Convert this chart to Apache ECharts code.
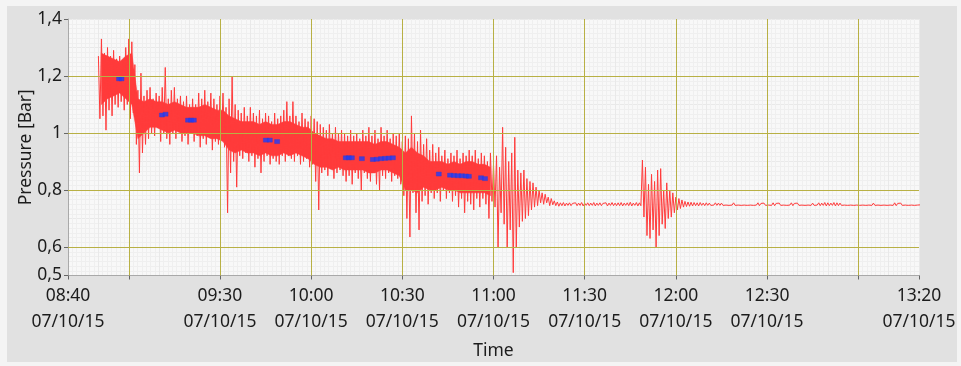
<!DOCTYPE html>
<html><head><meta charset="utf-8">
<script src="https://cdn.jsdelivr.net/npm/echarts@6/dist/echarts.min.js"></script>
<style>html,body{margin:0;padding:0;background:#f4f4f4;} #c{width:961px;height:366px;}</style>
</head><body><div id="c"></div>
<script>
// time in minutes since midnight; each minute holds the upper / lower excursion
const startMinute = 530; // 08:50
const stepMinutes = 1;
const upperEnvelope = [
 1.27,1.33,1.28,1.30,1.27,1.29,1.26,1.27,1.25,1.30,
 1.33,1.32,1.24,1.15,1.21,1.13,1.15,1.16,1.12,1.14,
 1.13,1.16,1.23,1.12,1.15,1.16,1.12,1.13,1.11,1.13,
 1.10,1.12,1.10,1.14,1.12,1.15,1.11,1.14,1.12,1.10,
 1.13,1.14,1.09,1.12,1.20,1.10,1.08,1.07,1.09,1.06,
 1.09,1.07,1.06,1.08,1.05,1.07,1.06,1.04,1.07,1.05,
 1.06,1.08,1.11,1.06,1.11,1.06,1.04,1.07,1.05,1.04,
 1.06,1.05,1.04,1.03,1.02,1.01,1.03,1.00,1.02,1.00,
 1.01,1.00,0.99,1.01,0.99,1.00,0.98,1.01,0.99,1.02,
 0.99,1.01,0.98,1.02,0.99,1.01,0.98,1.00,0.99,1.00,
 0.97,0.99,0.98,1.06,1.00,0.97,1.01,0.96,0.98,0.94,
 0.96,0.93,0.95,0.92,0.94,0.91,0.93,0.92,0.94,0.91,
 0.93,0.92,0.94,0.92,0.94,0.91,0.93,0.92,0.90,0.93,
 0.89,0.92,0.88,1.02,0.95,0.90,0.93,0.985,0.87,0.86,
 0.87,0.84,0.83,0.825,0.81,0.80,0.79,0.785,0.775,0.77,0.762,
 0.758,0.755,0.756,0.754,0.755,0.753,0.755,0.754,0.756,0.754,
 0.755,0.754,0.756,0.754,0.755,0.753,0.755,0.754,0.756,0.754,
 0.755,0.756,0.754,0.755,0.757,0.754,0.756,0.755,
 0.905,0.88,0.82,0.855,0.83,0.87,0.875,0.80,0.825,0.80,0.79,0.775,0.77,0.765,0.76,0.758,
 0.757,0.756,0.755,0.756,0.754,0.755,0.754,0.753,0.755,0.754,
 0.754,0.753,0.754,0.753,0.755,0.753,0.754,0.753,0.754,0.753,
 0.754,0.753,0.755,0.753,0.754,0.753,0.754,0.755,0.753,0.754,
 0.753,0.754,0.753,0.755,0.753,0.754,0.753,0.754,0.753,0.754,
 0.754,0.753,0.755,0.754,0.756,0.755,0.754,0.756,0.755,0.754,
 0.753,0.754,0.753,0.754,0.753,0.754,0.753,0.754,0.753,0.754,
 0.754,0.753,0.754,0.753,0.754,0.753,0.754,0.755,0.753,0.754,
 0.753,0.754,0.753,0.754,0.753,0.752
];
const lowerEnvelope = [
 1.05,1.06,1.01,1.08,1.06,1.10,1.09,1.11,1.08,1.10,
 1.05,1.07,0.96,0.86,0.93,0.96,0.98,1.00,0.99,1.02,
 0.97,1.00,0.98,0.96,1.00,0.98,1.01,0.97,0.99,0.96,
 1.00,0.97,0.99,0.95,0.98,0.96,0.99,0.94,0.97,0.96,
 0.98,0.95,0.72,0.86,0.90,0.81,0.92,0.91,0.93,0.90,
 0.92,0.88,0.91,0.86,0.90,0.92,0.89,0.91,0.90,0.89,
 0.92,0.90,0.92,0.91,0.90,0.92,0.89,0.90,0.91,0.88,
 0.89,0.83,0.73,0.86,0.87,0.85,0.88,0.84,0.86,0.87,
 0.85,0.83,0.85,0.82,0.86,0.84,0.80,0.86,0.84,0.83,
 0.86,0.82,0.80,0.85,0.84,0.86,0.83,0.85,0.84,0.82,
 0.78,0.70,0.635,0.79,0.72,0.66,0.76,0.78,0.75,0.79,
 0.77,0.79,0.76,0.80,0.77,0.79,0.76,0.78,0.74,0.77,
 0.72,0.76,0.75,0.73,0.77,0.74,0.77,0.75,0.70,0.76,
 0.74,0.60,0.72,0.68,0.60,0.66,0.51,0.60,0.67,0.69,
 0.70,0.71,0.73,0.74,0.745,0.755,0.75,0.755,0.745,0.748,0.745,
 0.743,0.745,0.744,0.746,0.745,0.746,0.745,0.746,0.744,0.746,
 0.745,0.746,0.744,0.746,0.745,0.746,0.744,0.746,0.745,0.745,
 0.745,0.744,0.746,0.745,0.744,0.746,0.744,0.745,
 0.705,0.64,0.63,0.66,0.60,0.64,0.68,0.665,0.70,0.705,0.72,0.73,0.735,0.74,0.742,0.743,
 0.744,0.745,0.744,0.746,0.745,0.746,0.746,0.747,0.746,0.746,
 0.746,0.747,0.746,0.747,0.746,0.747,0.746,0.747,0.746,0.747,
 0.746,0.747,0.745,0.747,0.746,0.747,0.746,0.745,0.747,0.746,
 0.747,0.746,0.747,0.745,0.747,0.746,0.747,0.746,0.747,0.746,
 0.746,0.747,0.745,0.746,0.744,0.745,0.746,0.744,0.745,0.746,
 0.747,0.746,0.747,0.746,0.747,0.746,0.747,0.746,0.747,0.746,
 0.746,0.747,0.746,0.747,0.746,0.747,0.746,0.745,0.747,0.746,
 0.747,0.746,0.747,0.746,0.747,0.748
];
// dense core of the noisy band (every 2 minutes from 08:51 to 10:59)
const coreStartMinute = 531;
const coreStepMinutes = 2;
const coreUpper = [
 1.28,1.27,1.26,1.25,1.27,1.28,1.12,1.11,1.12,1.11,
 1.11,1.10,1.11,1.10,1.09,1.09,1.09,1.10,1.09,1.08,
 1.08,1.06,1.05,1.04,1.04,1.04,1.03,1.04,1.03,1.03,
 1.04,1.04,1.03,1.02,1.02,1.00,0.99,0.98,0.98,0.97,
 0.97,0.97,0.97,0.97,0.97,0.96,0.97,0.97,0.96,0.95,
 0.93,0.95,0.93,0.92,0.90,0.90,0.90,0.89,0.90,0.89,
 0.90,0.90,0.89,0.89,0.88
];
const coreLower = [
 1.10,1.12,1.13,1.14,1.12,1.10,0.98,1.00,1.02,1.02,
 1.01,1.00,1.01,1.00,1.00,1.00,0.99,0.99,0.98,0.98,
 0.97,0.94,0.93,0.94,0.93,0.93,0.92,0.93,0.92,0.92,
 0.93,0.92,0.93,0.92,0.91,0.89,0.88,0.88,0.87,0.88,
 0.87,0.87,0.87,0.87,0.86,0.86,0.87,0.87,0.86,0.85,
 0.80,0.80,0.79,0.81,0.80,0.80,0.81,0.80,0.80,0.79,
 0.79,0.79,0.79,0.79,0.78
];
const markerTimes = [536.8,537.6,550.9,552.1,559.5,560.5,561.4,585.1,586.4,588.8,
  611.4,612.4,613.4,616.7,620.3,621.6,623.0,624.3,625.6,626.9,
  642.0,645.7,647.0,648.3,649.6,650.9,651.9,655.9,657.2];
const markerValues = [1.19,1.19,1.063,1.066,1.045,1.045,1.045,0.975,0.975,0.970,
  0.913,0.913,0.913,0.910,0.907,0.908,0.910,0.911,0.912,0.913,
  0.856,0.852,0.851,0.850,0.850,0.849,0.848,0.843,0.840];
const xLabelValues = [520,570,600,630,660,690,720,750,800];
const xTickValues = [520,540,570,600,630,660,690,720,750,780,800];
const xMajorValues = [540,570,600,630,660,690,720,750,780];
const yLabelValues = [0.5,0.6,0.8,1,1.2,1.4];
const yMajorValues = [0.6,0.8,1.0,1.2];
const dateLabel = '07/10/15';

const pressureData = [];
for (let i = 0; i < upperEnvelope.length; i++) {
  const t = startMinute + i * stepMinutes;
  pressureData.push([t, upperEnvelope[i]]);
  pressureData.push([t + stepMinutes / 2, lowerEnvelope[i]]);
}
const coreTimes = coreUpper.map((v, i) => coreStartMinute + i * coreStepMinutes);
const markerData = markerTimes.map((t, i) => [t, markerValues[i]]);

const FONT = 'Noto Sans';
const TXT = '#1c1c1c';
const RED = '#ff3b3b';
function pad(n){ return (n < 10 ? '0' : '') + n; }
function xFmt(v){
  const m = Math.round(v);
  if (xLabelValues.indexOf(m) < 0) return '';
  return pad(Math.floor(m / 60)) + ':' + pad(m % 60) + '\n' + dateLabel;
}
function yFmt(v){
  const r = Math.round(v * 10) / 10;
  if (yLabelValues.indexOf(r) < 0) return '';
  return String(r).replace('.', ',');
}
function renderCore(params, api){
  const pts = [];
  for (let i = 0; i < coreTimes.length; i++) pts.push(api.coord([coreTimes[i], coreUpper[i]]));
  for (let i = coreTimes.length - 1; i >= 0; i--) pts.push(api.coord([coreTimes[i], coreLower[i]]));
  return {type: 'polygon', shape: {points: pts}, style: {fill: RED, stroke: RED, lineWidth: 0.5}};
}

const chart = echarts.init(document.getElementById('c'), null, {renderer: 'canvas'});
chart.setOption({
  animation: false,
  backgroundColor: 'transparent',
  graphic: [{type: 'rect', shape: {x: 7, y: 6, width: 950, height: 356}, style: {fill: '#e1e1e1'}, z: -10, silent: true}],
  grid: {left: 68, right: 42, top: 19, bottom: 90.5, show: true, backgroundColor: '#f8f8f8', borderWidth: 0, containLabel: false, outerBoundsMode: 'none'},
  xAxis: [
    {type: 'value', min: 520, max: 800, interval: 10,
     axisLine: {show: true, lineStyle: {color: '#a9a9a9', width: 1}},
     axisTick: {show: false}, axisLabel: {show: false},
     splitLine: {show: true, lineStyle: {color: '#e9e9e9', width: 1}},
     minorTick: {show: false, splitNumber: 7},
     minorSplitLine: {show: true, lineStyle: {color: '#efefef', width: 1}}},
    {type: 'value', min: 520, max: 800, interval: 10, position: 'bottom',
     axisLine: {show: false},
     axisTick: {show: true, customValues: xTickValues, length: 4, lineStyle: {color: '#666'}},
     axisLabel: {show: true, customValues: xLabelValues, formatter: xFmt, fontFamily: FONT, fontSize: 17.5, lineHeight: 26, color: TXT, margin: 8, hideOverlap: false},
     splitLine: {show: false},
     name: 'Time', nameLocation: 'middle', nameGap: 67, nameMoveOverlap: false,
     nameTextStyle: {fontFamily: FONT, fontSize: 17.5, color: TXT}}
  ],
  yAxis: [
    {type: 'value', min: 0.5, max: 1.4, interval: 0.1,
     axisLine: {show: true, lineStyle: {color: '#a9a9a9', width: 1}},
     axisTick: {show: false}, axisLabel: {show: false},
     splitLine: {show: true, lineStyle: {color: '#e9e9e9', width: 1}},
     minorTick: {show: false, splitNumber: 6},
     minorSplitLine: {show: true, lineStyle: {color: '#efefef', width: 1}}},
    {type: 'value', min: 0.5, max: 1.4, interval: 0.1, position: 'left',
     axisLine: {show: false},
     axisTick: {show: true, customValues: yLabelValues, length: 4, lineStyle: {color: '#666'}},
     axisLabel: {show: true, customValues: yLabelValues, formatter: yFmt, fontFamily: FONT, fontSize: 17.5, color: TXT, margin: 6, hideOverlap: false},
     splitLine: {show: false},
     name: 'Pressure [Bar]', nameLocation: 'middle', nameGap: 33, nameRotate: 90, nameMoveOverlap: false,
     nameTextStyle: {fontFamily: FONT, fontSize: 17.5, color: TXT}}
  ],
  series: [
    {type: 'line', xAxisIndex: 0, yAxisIndex: 0, data: [], z: 1, silent: true,
     markLine: {silent: true, symbol: ['none', 'none'], label: {show: false}, animation: false,
       lineStyle: {color: '#b8b044', width: 1, type: 'solid'},
       emphasis: {disabled: true},
       data: xMajorValues.map(v => ({xAxis: v})).concat(yMajorValues.map(v => ({yAxis: v})))}},
    {type: 'custom', coordinateSystem: 'cartesian2d', xAxisIndex: 0, yAxisIndex: 0,
     data: [[coreStartMinute, coreLower[0]]], renderItem: renderCore, z: 2, silent: true, clip: true},
    {type: 'line', xAxisIndex: 0, yAxisIndex: 0, data: pressureData, z: 3, showSymbol: false, symbol: 'none',
     lineStyle: {color: RED, width: 1}, silent: true, emphasis: {disabled: true}},
    {type: 'scatter', xAxisIndex: 0, yAxisIndex: 0, data: markerData, z: 4, symbol: 'rect', symbolSize: [5, 4],
     itemStyle: {color: '#1d3cff', borderColor: '#2a3fd0', borderWidth: 0.5}, silent: true}
  ]
});
</script></body></html>
